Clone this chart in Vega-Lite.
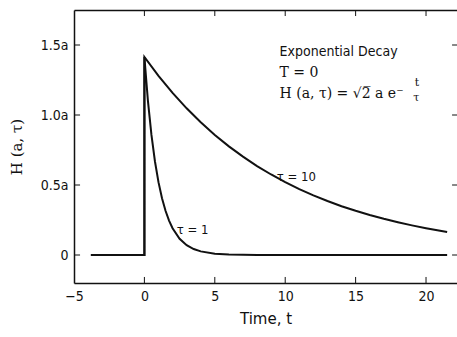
{
  "$schema": "https://vega.github.io/schema/vega-lite/v6.json",
  "width": 383,
  "height": 273,
  "autosize": {"type": "none"},
  "padding": {"left": 74, "top": 10, "right": 0, "bottom": 54},
  "background": "white",
  "config": {
    "view": {"stroke": null},
    "font": "DejaVu Sans Condensed",
    "axis": {"grid": false, "domainColor": "#111", "tickColor": "#111", "domainWidth": 1.5, "labelColor": "#111", "titleColor": "#111", "labelFont": "DejaVu Sans Condensed", "labelFontSize": 14, "titleFontWeight": "normal", "labelFlush": false, "ticks": false}
  },
  "datasets": {
    "curves": [
      {"t": -3.8, "h": 0, "s": "1"}, {"t": 0, "h": 0, "s": "1"}, {"t": 0, "h": 1.4142, "s": "1"},
      {"t": 0.25, "h": 1.1014, "s": "1"}, {"t": 0.5, "h": 0.8578, "s": "1"}, {"t": 0.75, "h": 0.668, "s": "1"},
      {"t": 1, "h": 0.5203, "s": "1"}, {"t": 1.25, "h": 0.4052, "s": "1"}, {"t": 1.5, "h": 0.3156, "s": "1"},
      {"t": 1.75, "h": 0.2458, "s": "1"}, {"t": 2, "h": 0.1914, "s": "1"}, {"t": 2.5, "h": 0.1161, "s": "1"},
      {"t": 3, "h": 0.0704, "s": "1"}, {"t": 3.5, "h": 0.0427, "s": "1"}, {"t": 4, "h": 0.0259, "s": "1"},
      {"t": 5, "h": 0.0095, "s": "1"}, {"t": 6, "h": 0.0035, "s": "1"}, {"t": 8, "h": 0.0005, "s": "1"},
      {"t": 10, "h": 0, "s": "1"}, {"t": 21.5, "h": 0, "s": "1"},
      {"t": -3.8, "h": 0, "s": "10"}, {"t": 0, "h": 0, "s": "10"}, {"t": 0, "h": 1.4142, "s": "10"},
      {"t": 1, "h": 1.2796, "s": "10"}, {"t": 2, "h": 1.1579, "s": "10"}, {"t": 3, "h": 1.0477, "s": "10"},
      {"t": 4, "h": 0.948, "s": "10"}, {"t": 5, "h": 0.8578, "s": "10"}, {"t": 6, "h": 0.7761, "s": "10"},
      {"t": 7, "h": 0.7023, "s": "10"}, {"t": 8, "h": 0.6354, "s": "10"}, {"t": 9, "h": 0.575, "s": "10"},
      {"t": 10, "h": 0.5203, "s": "10"}, {"t": 11, "h": 0.4707, "s": "10"}, {"t": 12, "h": 0.426, "s": "10"},
      {"t": 13, "h": 0.3854, "s": "10"}, {"t": 14, "h": 0.3487, "s": "10"}, {"t": 15, "h": 0.3156, "s": "10"},
      {"t": 16, "h": 0.2855, "s": "10"}, {"t": 17, "h": 0.2584, "s": "10"}, {"t": 18, "h": 0.2338, "s": "10"},
      {"t": 19, "h": 0.2115, "s": "10"}, {"t": 20, "h": 0.1914, "s": "10"}, {"t": 21, "h": 0.1732, "s": "10"},
      {"t": 21.5, "h": 0.1648, "s": "10"}
    ],
    "sans": [
      {"t": 9.6, "h": 1.45, "txt": "Exponential Decay", "sz": 14},
      {"t": 9.4, "h": 0.56, "txt": "τ = 10", "sz": 13},
      {"t": 2.3, "h": 0.18, "txt": "τ = 1", "sz": 13}
    ],
    "serif": [
      {"t": 9.6, "h": 1.3, "txt": "T = 0", "sz": 14},
      {"t": 9.6, "h": 1.15, "txt": "H (a, τ) = √2̅ a e⁻", "sz": 14},
      {"t": 19.2, "h": 1.23, "txt": "t", "sz": 11},
      {"t": 19.1, "h": 1.12, "txt": "τ", "sz": 11}
    ],
    "xticks": [{"v": 0}, {"v": 5}, {"v": 10}, {"v": 15}, {"v": 20}],
    "yticks": [{"v": 0}, {"v": 0.5}, {"v": 1}, {"v": 1.5}]
  },
  "layer": [
    {
      "data": {"name": "curves"},
      "mark": {"type": "line", "color": "#111", "strokeWidth": 2, "clip": true},
      "encoding": {
        "x": {"field": "t", "type": "quantitative", "scale": {"domain": [-5, 22.2], "nice": false, "zero": false},
          "axis": {"values": [-5, 0, 5, 10, 15, 20], "title": "Time, t", "titleFontSize": 15, "titleFont": "DejaVu Sans", "titlePadding": 8, "labelPadding": 6}},
        "y": {"field": "h", "type": "quantitative", "scale": {"domain": [-0.2, 1.75], "nice": false, "zero": false},
          "axis": {"values": [0, 0.5, 1, 1.5], "labelExpr": "datum.value == 0 ? '0' : format(datum.value, '.1f') + 'a'", "title": "H (a, τ)", "titleFont": "DejaVu Serif", "titleFontSize": 15, "titlePadding": 16, "labelPadding": 6}},
        "detail": {"field": "s"},
        "order": {"field": "t"}
      }
    },
    {
      "data": {"name": "sans"},
      "mark": {"type": "text", "align": "left", "baseline": "middle", "color": "#111", "font": "DejaVu Sans Condensed"},
      "encoding": {
        "x": {"field": "t", "type": "quantitative", "axis": {"orient": "top", "labels": false, "title": null}},
        "y": {"field": "h", "type": "quantitative", "axis": null},
        "text": {"field": "txt"},
        "size": {"field": "sz", "type": "quantitative", "scale": null}
      }
    },
    {
      "data": {"name": "serif"},
      "mark": {"type": "text", "align": "left", "baseline": "middle", "color": "#111", "font": "DejaVu Serif"},
      "encoding": {
        "x": {"field": "t", "type": "quantitative", "axis": null},
        "y": {"field": "h", "type": "quantitative", "axis": null},
        "text": {"field": "txt"},
        "size": {"field": "sz", "type": "quantitative", "scale": null}
      }
    },
    {
      "data": {"name": "xticks"},
      "mark": {"type": "rule", "color": "#111", "strokeWidth": 1},
      "encoding": {
        "x": {"field": "v", "type": "quantitative", "axis": null},
        "y": {"datum": -0.2, "axis": null},
        "y2": {"datum": -0.157}
      }
    },
    {
      "data": {"name": "xticks"},
      "mark": {"type": "rule", "color": "#111", "strokeWidth": 1},
      "encoding": {
        "x": {"field": "v", "type": "quantitative", "axis": null},
        "y": {"datum": 1.75, "axis": null},
        "y2": {"datum": 1.707}
      }
    },
    {
      "data": {"name": "yticks"},
      "mark": {"type": "rule", "color": "#111", "strokeWidth": 1},
      "encoding": {
        "y": {"field": "v", "type": "quantitative", "axis": null},
        "x": {"datum": -5, "axis": null},
        "x2": {"datum": -4.57}
      }
    },
    {
      "data": {"name": "yticks"},
      "mark": {"type": "rule", "color": "#111", "strokeWidth": 1},
      "encoding": {
        "y": {"field": "v", "type": "quantitative", "axis": null},
        "x": {"datum": 21.85, "axis": null},
        "x2": {"datum": 22.2}
      }
    }
  ],
  "resolve": {"axis": {"x": "independent", "y": "independent"}}
}
